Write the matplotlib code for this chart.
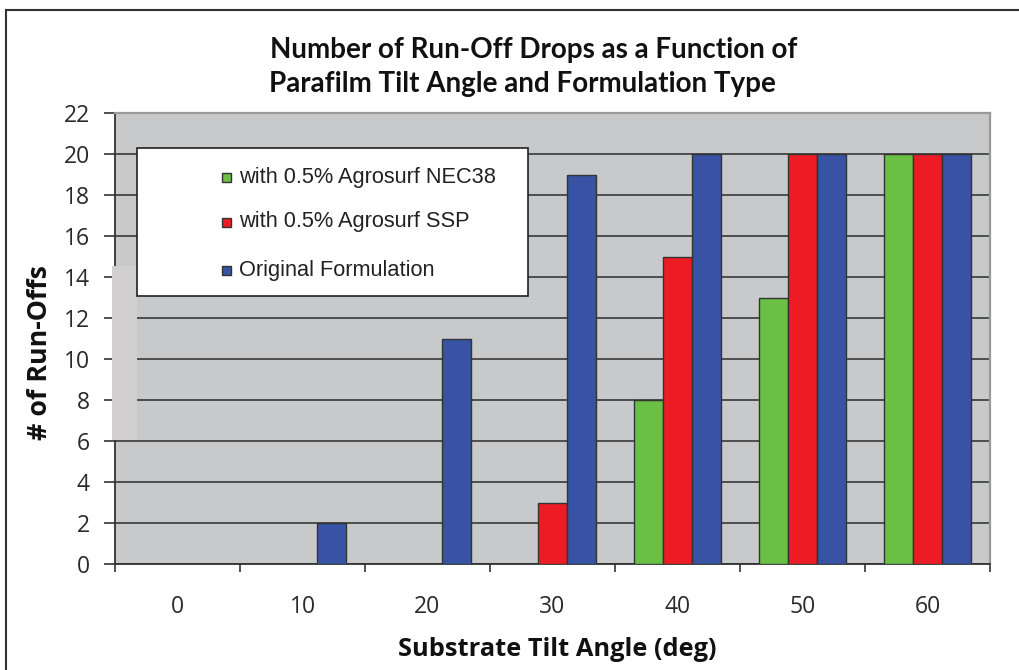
import matplotlib
matplotlib.use("Agg")
import matplotlib.pyplot as plt
import numpy as np
from matplotlib.patches import Rectangle
from matplotlib.lines import Line2D

angles = ["0", "10", "20", "30", "40", "50", "60"]
nec38 = [0, 0, 0, 0, 8, 13, 20]
ssp = [0, 0, 0, 3, 15, 20, 20]
original = [0, 2, 11, 19, 20, 20, 20]
series_names = ["with 0.5% Agrosurf NEC38", "with 0.5% Agrosurf SSP", "Original Formulation"]
colors = ["#6abf45", "#ed1c24", "#3953a4"]
yticks = list(range(0, 23, 2))

W, H = 1020, 670
fig = plt.figure(figsize=(W/100, H/100), dpi=100)
ax = fig.add_axes([115/W, 1-564/H, (990-115)/W, (564-113)/H])
ax.set_facecolor("#c8c9cb")

def fx(px):
    return px / W

def fy(py):
    return 1 - py / H

x = np.arange(len(angles))
w = 0.233
for i, (vals, c) in enumerate(zip([nec38, ssp, original], colors)):
    ax.bar(x + (i-1)*w, vals, width=w, color=c, edgecolor="#333333", linewidth=1.0, zorder=3)

tick_font = "Open Sans"
ax.set_xlim(-0.5, len(angles)-0.5)
ax.set_ylim(0, 22)
ax.set_yticks(yticks)
ax.set_yticklabels([str(t) for t in yticks], fontname=tick_font, fontsize=16.5, color="#2a2a2a")
ax.set_xticks(x)
ax.set_xticklabels(angles, fontname=tick_font, fontsize=16.5, color="#2a2a2a")
ax.set_xticks(np.arange(-0.5, len(angles), 1.0), minor=True)
ax.tick_params(axis="x", which="major", length=0, pad=22)
ax.tick_params(axis="x", which="minor", length=6, width=1.2, color="#333333", direction="out")
ax.tick_params(axis="y", length=8, width=1.2, color="#333333", direction="out", pad=10)
ax.yaxis.grid(True, color="#444444", linewidth=1.3, zorder=0)
ax.set_axisbelow(True)
for s in ["left", "bottom"]:
    ax.spines[s].set_color("#333333")
    ax.spines[s].set_linewidth(1.3)
for s in ["top", "right"]:
    ax.spines[s].set_color("#9a9a9a")
    ax.spines[s].set_linewidth(1.6)

# faint lighter patch artifact at left (covers spine and grid there)
fig.add_artist(Rectangle((fx(112), fy(440)), fx(25), fy(266)-fy(440), transform=fig.transFigure,
                         facecolor="#d1cfcf", edgecolor="none", zorder=4))

renderer = fig.canvas.get_renderer()

def fit(t, target, vertical=False):
    bb = t.get_window_extent(renderer=renderer)
    cur = bb.height if vertical else bb.width
    t.set_fontsize(t.get_fontsize() * target / cur)

t1 = fig.text(fx(534), fy(50), "Number of Run-Off Drops as a Function of", ha="center", va="center",
              fontname="Lato", fontweight="bold", fontsize=17, color="#111111")
t2 = fig.text(fx(522), fy(84), "Parafilm Tilt Angle and Formulation Type", ha="center", va="center",
              fontname="Lato", fontweight="bold", fontsize=17, color="#111111")
fit(t1, 528)
t2.set_fontsize(t1.get_fontsize())

xl = fig.text(fx(557), fy(650), "Substrate Tilt Angle (deg)", ha="center", va="center",
              fontname="Open Sans", fontweight="bold", fontsize=17, color="#111111")
fit(xl, 318)
yl = fig.text(fx(40), fy(353), "# of Run-Offs", ha="center", va="center", rotation=90,
              fontname="Open Sans", fontweight="bold", fontsize=17, color="#111111")
fit(yl, 175, vertical=True)

# legend box
fig.add_artist(Rectangle((fx(137), fy(296)), fx(528)-fx(137), fy(148)-fy(296), transform=fig.transFigure,
                         facecolor="white", edgecolor="#222222", linewidth=1.2, zorder=5))
row_y = [177, 222, 270]
leg_texts = []
for name, c, ry in zip(series_names, colors, row_y):
    fig.add_artist(Rectangle((fx(222), fy(ry+5)), fx(9), 9/H, transform=fig.transFigure,
                             facecolor=c, edgecolor="#333333", linewidth=1.0, zorder=6))
    tt = fig.text(fx(239), fy(ry), name, ha="left", va="center", fontname="Liberation Sans",
                  fontsize=16, color="#222222", zorder=6)
    leg_texts.append(tt)
fit(leg_texts[0], 258)
for tt in leg_texts[1:]:
    tt.set_fontsize(leg_texts[0].get_fontsize())

# outer border
fig.add_artist(Line2D([fx(6), 1.0], [fy(10), fy(10)], color="#333333", linewidth=1.5))
fig.add_artist(Line2D([fx(6), fx(6)], [0, fy(10)], color="#333333", linewidth=1.5))

fig.savefig("out.png", dpi=100)
